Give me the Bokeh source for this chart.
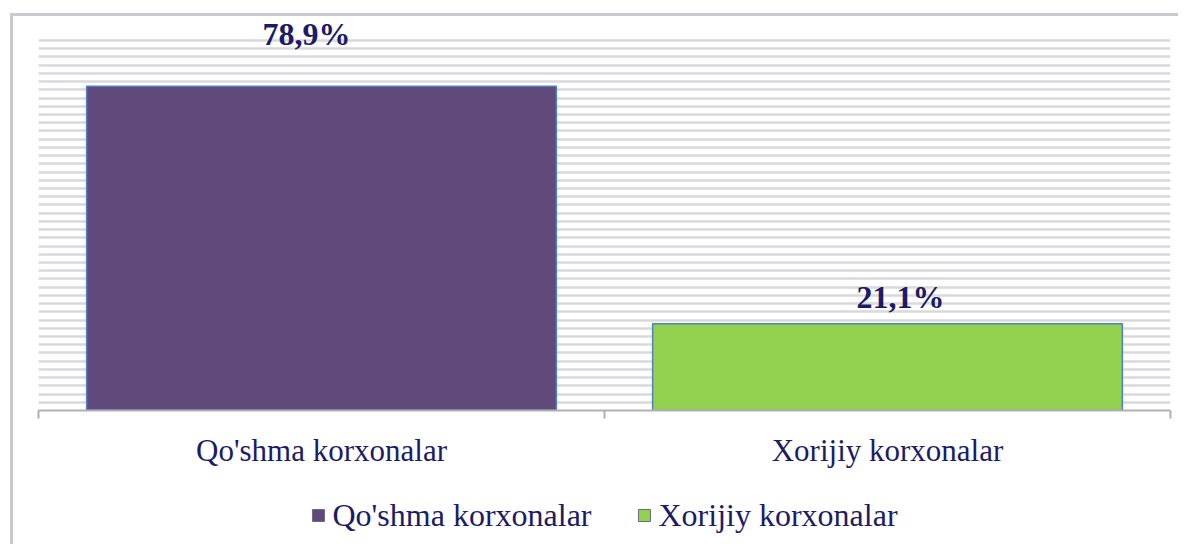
from bokeh.plotting import figure
from bokeh.layouts import column
from bokeh.models import (ColumnDataSource, Range1d, LinearAxis,
                          FixedTicker, Legend, LegendItem)
from bokeh.core.properties import value
from bokeh.embed import file_html
from bokeh.resources import INLINE

categories = ["Qo'shma korxonalar", "Xorijiy korxonalar"]
shares = [78.9, 21.1]
bar_colors = ["#604a7b", "#92d050"]
label_texts = [f"{v:.1f}".replace(".", ",") + "%" for v in shares]

NAVY = "#1c1c66"
SERIF = "Liberation Serif"
GRID_MAX = 90
GRID_STEP = 2

n = len(categories)
centers = [i + 0.5 for i in range(n)]
src = ColumnDataSource(dict(x=centers, cat=categories, val=shares, color=bar_colors, lab=label_texts))

# ---- main chart ----
p = figure(width=1165, height=470, x_range=Range1d(0, n), y_range=Range1d(0, 95.84),
           x_axis_location=None, y_axis_location=None,
           output_backend="svg", toolbar_location=None,
           min_border_left=24, min_border_right=8, min_border_top=0, min_border_bottom=76)
p.outline_line_color = None
p.background_fill_color = "white"
p.border_fill_color = "white"

p.xgrid.visible = False
p.ygrid.ticker = FixedTicker(ticks=list(range(0, GRID_MAX + 1, GRID_STEP)))
p.ygrid.grid_line_color = "#d9d9dd"
p.ygrid.grid_line_width = 2.5

r = p.vbar(x="x", top="val", width=0.83, source=src, fill_color="color",
           line_color="#4f81bd", line_width=1.5)

# value labels
label_offsets = {0: (-15, -52), 1: (13, -27)}
for i in range(n):
    dx, dy = label_offsets[i]
    p.text(x=[centers[i]], y=[shares[i]], text=[label_texts[i]],
           text_align="center", text_baseline="alphabetic", x_offset=dx, y_offset=dy,
           text_font=value(SERIF), text_font_style="bold", text_font_size="32px",
           text_color=NAVY)

# tick axis at category boundaries
tick_axis = LinearAxis(ticker=FixedTicker(ticks=list(range(n + 1))))
tick_axis.axis_line_color = "#b0b0b6"
tick_axis.axis_line_width = 2
tick_axis.major_tick_line_color = "#b0b0b6"
tick_axis.major_tick_line_width = 2
tick_axis.major_tick_out = 8
tick_axis.major_tick_in = 0
tick_axis.minor_tick_line_color = None
tick_axis.major_label_text_font_size = "0px"
tick_axis.major_label_standoff = 0
p.add_layout(tick_axis, "below")

label_axis = LinearAxis(ticker=FixedTicker(ticks=centers),
                        major_label_overrides={c: cat for c, cat in zip(centers, categories)})
label_axis.axis_line_color = None
label_axis.major_tick_line_color = None
label_axis.minor_tick_line_color = None
label_axis.major_tick_out = 0
label_axis.major_tick_in = 0
label_axis.major_label_standoff = 14
label_axis.major_label_text_font = SERIF
label_axis.major_label_text_font_size = "31px"
label_axis.major_label_text_color = NAVY
p.add_layout(label_axis, "below")

# ---- legend strip ----
p2 = figure(width=1165, height=58, x_range=Range1d(0, n), y_range=Range1d(1000, 1001),
            x_axis_location=None, y_axis_location=None,
            output_backend="svg", toolbar_location=None,
            min_border_left=25, min_border_right=0, min_border_top=0, min_border_bottom=0)
p2.outline_line_color = None
p2.grid.visible = False
r2 = p2.vbar(x="x", top="val", width=0.83, source=src, fill_color="color",
             line_color="#6b6b80", line_width=1)

legend = Legend(items=[LegendItem(label=categories[i], renderers=[r2], index=i)
                       for i in range(n)],
                orientation="horizontal", location="center")
legend.label_text_font = SERIF
legend.label_text_font_size = "32px"
legend.label_text_color = NAVY
legend.glyph_width = 15
legend.glyph_height = 15
legend.label_standoff = 7
legend.spacing = 45
legend.padding = 0
legend.margin = 0
legend.border_line_color = None
legend.background_fill_alpha = 0
p2.add_layout(legend, "center")

layout = column(p, p2, spacing=0,
                styles={"margin-left": "10px", "margin-top": "13px",
                        "border-left": "3px solid #c9c9cf", "border-top": "3px solid #c9c9cf"})

open("out.html", "w").write(file_html(layout, INLINE))
